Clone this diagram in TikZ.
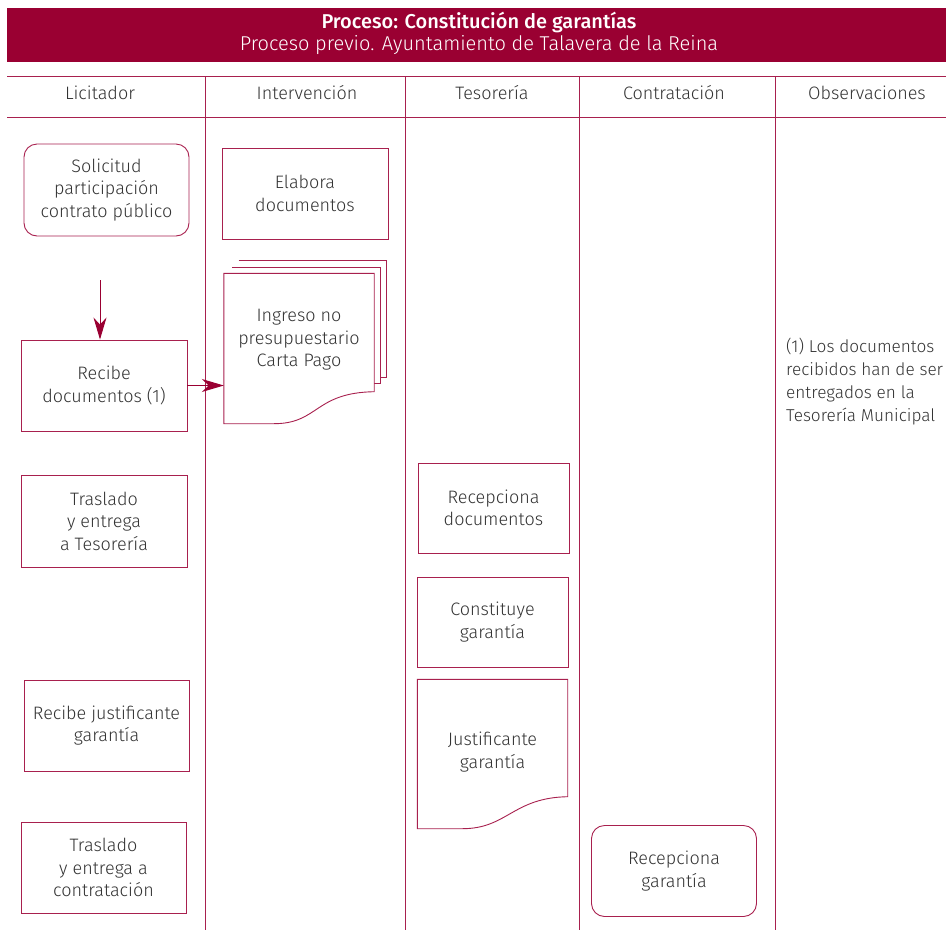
\documentclass[tikz,border=0pt]{standalone}
\usepackage{fontspec}
\usetikzlibrary{arrows.meta}
\setmainfont{Fira Sans}[UprightFont=* Light, BoldFont=* Medium]
\definecolor{crim}{HTML}{9A0032}
\definecolor{lin}{HTML}{A8204E}
\definecolor{txt}{HTML}{333333}
\begin{document}
\begin{tikzpicture}[x=1pt,y=-1pt,
  every node/.style={font=\fontsize{18}{22.5}\selectfont, text=txt, align=center, inner sep=0pt},
  box/.style={draw=lin, line width=0.9pt, rectangle},
  rbox/.style={draw=lin, line width=0.9pt, rectangle, rounded corners=13pt},
  lane/.style={draw=lin, line width=0.9pt},
  conn/.style={draw=crim, line width=1pt, -{Stealth[length=22pt,width=13pt,inset=7pt]}},
  doc/.style={draw=lin, line width=0.9pt, fill=white}]
\useasboundingbox (0,0) rectangle (946,930);
\clip (0,0) rectangle (946,930);
% header band
\fill[crim] (7,8) rectangle (946,62);
\node[text=white, font=\fontsize{20}{24}\selectfont\bfseries] (t1) at (479,22) {Proceso: Constitución de garantías};
\node[text=white, font=\fontsize{20}{24}\selectfont] (t2) at (479,45) {Proceso previo. Ayuntamiento de Talavera de la Reina};
% lane header
\draw[lane] (7,76) -- (946,76);
\draw[lane, line width=1.6pt] (7,117.5) -- (946,117.5);
\foreach \x in {205,405,579,775} \draw[lane] (\x,76) -- (\x,930);
\node (h1) at (100,93) {Licitador};
\node (h2) at (307,93) {Intervención};
\node (h3) at (492,93) {Tesorería};
\node (h4) at (674,93) {Contratación};
\node (h5) at (867,93) {Observaciones};
% Licitador
\node[rbox, minimum width=165pt, minimum height=92pt] (sol) at (106.5,190) {Solicitud\\participación\\contrato público};
\coordinate (arrtop) at (100,280);
\node[box, minimum width=166pt, minimum height=91pt] (rec) at (104,385.5) {Recibe\\documentos (1)};
\node[box, minimum width=166pt, minimum height=92pt] (tra) at (104,521) {Traslado\\y entrega\\a Tesorería};
\node[box, minimum width=165pt, minimum height=91pt] (rjg) at (106.5,725.5) {Recibe justificante\\garantía};
\node[box, minimum width=165pt, minimum height=91pt] (trc) at (103.5,867.5) {Traslado\\y entrega a\\contratación};
% Intervención
\node[box, minimum width=166pt, minimum height=91pt] (ela) at (305,193.5) {Elabora\\documentos};
% multi document
\draw[doc] (238.5,260) -- (386.5,260) -- (386.5,377) -- (380,377);
\draw[doc] (232,267) -- (380,267) -- (380,383) -- (374,383);
\node[minimum width=150pt, minimum height=150pt] (ing) at (299,348.5) {};
\draw[doc] (ing.north west) -- (ing.north east) -- ([yshift=32pt]ing.south east)
  .. controls ++(-60,1) and ++(45,0) .. ([xshift=50pt]ing.south west) -- (ing.south west) -- cycle;
\node (ingt) at (299,340) {Ingreso no\\presupuestario\\Carta Pago};
% Tesorería
\node[box, minimum width=151pt, minimum height=90pt] (rdoc) at (493.5,508) {Recepciona\\documentos};
\node[box, minimum width=151pt, minimum height=90pt] (cg) at (492.5,622) {Constituye\\garantía};
\node[minimum width=150pt, minimum height=149pt] (jus) at (492.5,754) {};
\draw[doc] (jus.north west) -- (jus.north east) -- ([yshift=32pt]jus.south east)
  .. controls ++(-55,1) and ++(45,0) .. ([xshift=45pt]jus.south west) -- (jus.south west) -- cycle;
\node (just) at (492.5,752) {Justificante\\garantía};
% Contratación
\node[rbox, minimum width=165pt, minimum height=91pt] (rg) at (674,871) {Recepciona\\garantía};
% Observaciones
\node[anchor=north west, align=left, font=\fontsize{17.2}{23}\selectfont] (obs) at (786,338) {(1) Los documentos\\recibidos han de ser\\entregados en la\\Tesorería Municipal};
% connectors
\draw[conn] (arrtop) -- (rec.north -| arrtop);
\draw[conn] (rec.east) -- (rec.east -| ing.west);
\end{tikzpicture}
\end{document}
